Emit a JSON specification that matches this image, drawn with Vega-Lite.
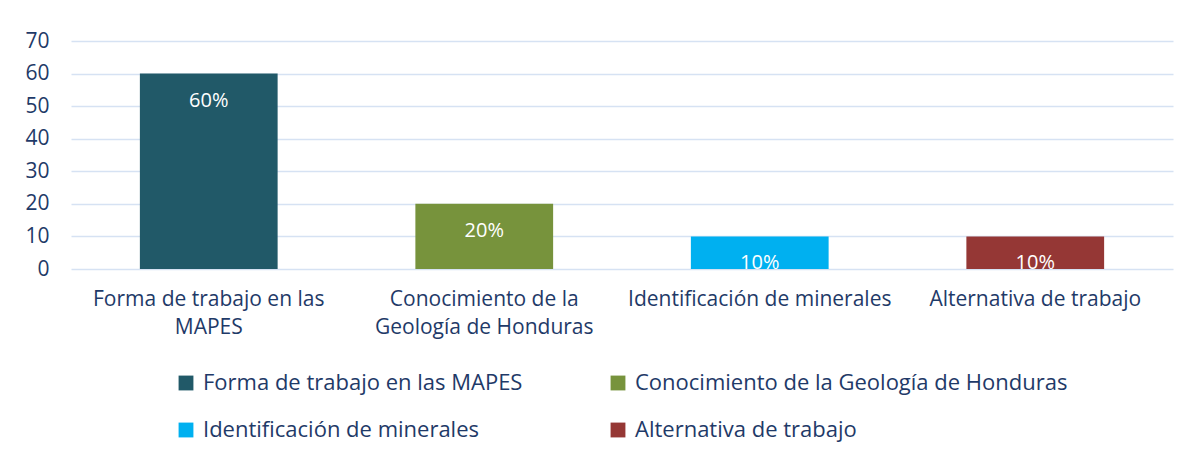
{
  "$schema": "https://vega.github.io/schema/vega-lite/v6.json",
  "width": 1102,
  "height": 228,
  "autosize": "none",
  "padding": {"left": 71, "top": 41, "right": 13, "bottom": 191},
  "background": "white",
  "data": {
    "values": [
      {"categoria": "Forma de trabajo en las MAPES", "valor": 60, "etiqueta": "60%"},
      {"categoria": "Conocimiento de la Geología de Honduras", "valor": 20, "etiqueta": "20%"},
      {"categoria": "Identificación de minerales", "valor": 10, "etiqueta": "10%"},
      {"categoria": "Alternativa de trabajo", "valor": 10, "etiqueta": "10%"}
    ]
  },
  "encoding": {
    "x": {
      "field": "categoria",
      "type": "nominal",
      "sort": null,
      "scale": {"paddingInner": 0.5, "paddingOuter": 0.25},
      "axis": {
        "title": null,
        "labelAngle": 0,
        "domain": false,
        "ticks": false,
        "labelPadding": 19,
        "labelFont": "Open Sans",
        "labelFontSize": 21,
        "labelColor": "#1F3A68",
        "labelLimit": 400,
        "labelLineHeight": 28,
        "labelExpr": "datum.label == 'Forma de trabajo en las MAPES' ? ['Forma de trabajo en las', 'MAPES'] : datum.label == 'Conocimiento de la Geología de Honduras' ? ['Conocimiento de la', 'Geología de Honduras'] : datum.label"
      }
    },
    "y": {
      "field": "valor",
      "type": "quantitative",
      "scale": {"domain": [0, 70]},
      "axis": {
        "title": null,
        "values": [0, 10, 20, 30, 40, 50, 60, 70],
        "labelOverlap": false,
        "domain": false,
        "ticks": false,
        "labelPadding": 22,
        "labelFont": "Open Sans",
        "labelFontSize": 21,
        "labelColor": "#1F3A68",
        "gridColor": "#D6E2F3",
        "gridWidth": 1.5
      }
    }
  },
  "layer": [
    {
      "mark": {"type": "bar"},
      "encoding": {
        "color": {
          "field": "categoria",
          "type": "nominal",
          "sort": null,
          "scale": {
            "domain": ["Forma de trabajo en las MAPES", "Conocimiento de la Geología de Honduras", "Identificación de minerales", "Alternativa de trabajo"],
            "range": ["#215968", "#77933C", "#00B0F0", "#953735"]
          },
          "legend": {
            "title": null,
            "orient": "none",
            "direction": "horizontal",
            "legendX": 104,
            "legendY": 331,
            "columns": 2,
            "columnPadding": 84,
            "rowPadding": 25,
            "symbolType": "square",
            "symbolSize": 220,
            "symbolStrokeWidth": 0,
            "labelFont": "Open Sans",
            "labelFontSize": 22,
            "labelColor": "#1F3A68",
            "labelLimit": 500,
            "labelOffset": 6
          }
        }
      }
    },
    {
      "mark": {"type": "text", "baseline": "top", "dy": 17, "font": "Open Sans", "fontSize": 20, "color": "white"},
      "encoding": {
        "text": {"field": "etiqueta"}
      }
    }
  ],
  "config": {"view": {"stroke": null}}
}
